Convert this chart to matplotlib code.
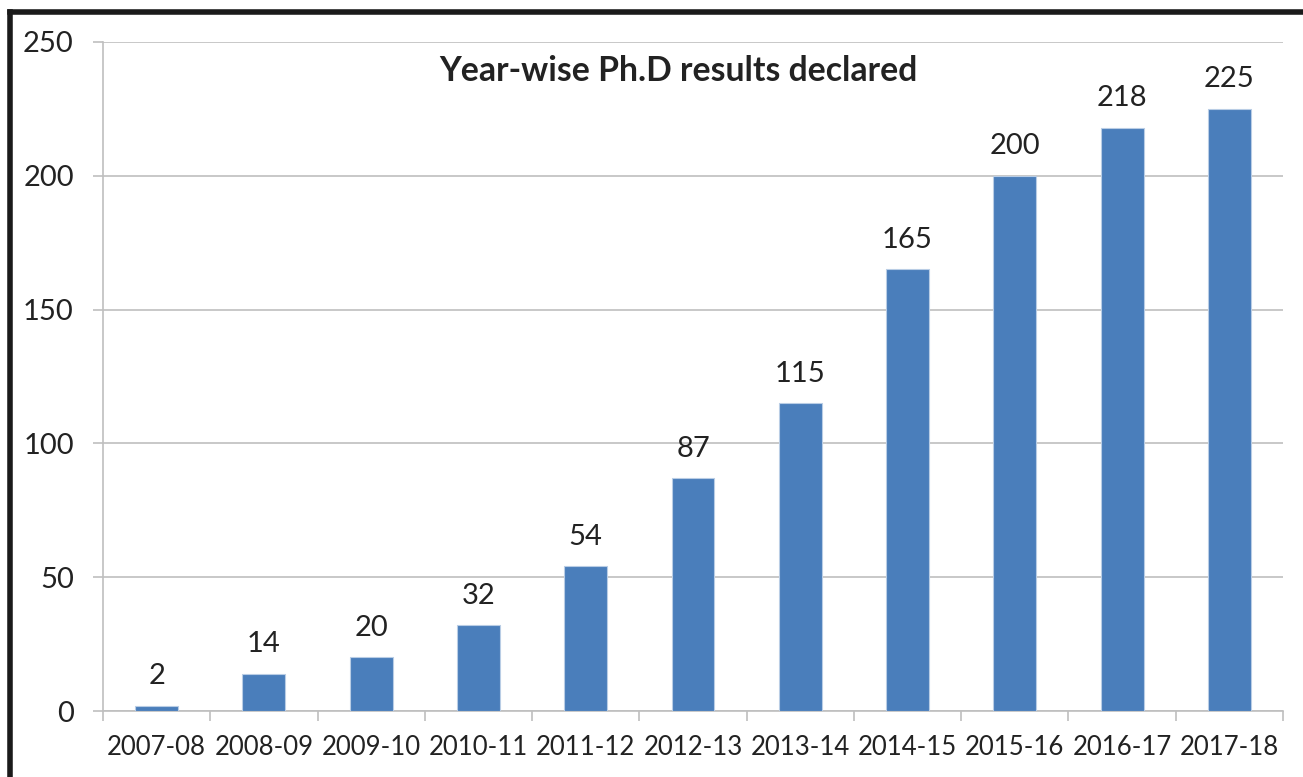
import matplotlib
matplotlib.use("Agg")
import matplotlib.pyplot as plt
from matplotlib.lines import Line2D
from matplotlib.transforms import blended_transform_factory
import numpy as np

categories = ["2007-08", "2008-09", "2009-10", "2010-11", "2011-12", "2012-13",
              "2013-14", "2014-15", "2015-16", "2016-17", "2017-18"]
values = [2, 14, 20, 32, 54, 87, 115, 165, 200, 218, 225]
title = "Year-wise Ph.D results declared"
yticks = [0, 50, 100, 150, 200, 250]

plt.rcParams['font.family'] = ['Lato', 'DejaVu Sans']

fig = plt.figure(figsize=(13.03, 7.77), dpi=100)
ax = fig.add_axes([103/1303, 1-711/777, 1180/1303, 669/777])

x = np.arange(len(categories))
bar_color = "#4A7EBB"
ax.bar(x, values, width=0.4, color=bar_color, edgecolor="#B9CDE5", linewidth=0.8, zorder=3)

for xi, v in zip(x, values):
    ax.annotate(str(v), (xi, v), xytext=(0, 12), textcoords="offset points",
                ha="center", va="bottom", fontsize=21, color="#222222")

ax.set_xlim(-0.5, len(categories) - 0.5)
ax.set_ylim(0, 250)
ax.set_yticks(yticks)
ax.set_yticklabels([str(t) for t in yticks])
ax.grid(axis="y", color="#BFBFBF", linewidth=1.2, zorder=0)

ax.set_xticks(x)
ax.set_xticklabels(categories)
ax.set_xticks(np.arange(-0.5, len(categories), 1), minor=True)
ax.tick_params(axis="x", which="major", length=0, pad=17, labelsize=18.5, labelcolor="#222222")
ax.tick_params(axis="x", which="minor", length=7, width=1.2, color="#BFBFBF", direction="out")
ax.tick_params(axis="y", length=7, width=1.2, color="#BFBFBF", pad=14, labelsize=21, labelcolor="#222222")

for s in ["top", "right"]:
    ax.spines[s].set_visible(False)
for s in ["left", "bottom"]:
    ax.spines[s].set_color("#BFBFBF")
    ax.spines[s].set_linewidth(1.2)

trans = blended_transform_factory(ax.transAxes, ax.transData)
ax.text(0.488, 239.3, title, transform=trans,
        fontsize=24.3, fontweight="bold", ha="center", va="center", color="#222222")

# Outer black border (top and left visible)
fig.add_artist(Line2D([10/1303, 10/1303], [0, 1-12/777], transform=fig.transFigure,
                      color="#1a1a1a", linewidth=4, solid_capstyle="projecting"))
fig.add_artist(Line2D([10/1303, 1], [1-12/777, 1-12/777], transform=fig.transFigure,
                      color="#1a1a1a", linewidth=4, solid_capstyle="projecting"))

fig.savefig("out.png", dpi=100)
